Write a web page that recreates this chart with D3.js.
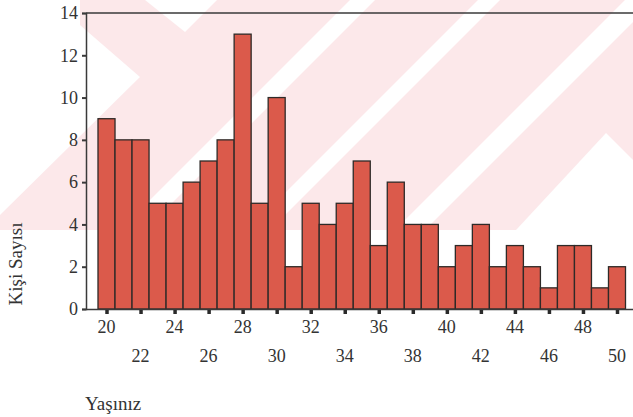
<!DOCTYPE html>
<html>
<head>
<meta charset="utf-8">
<script src="https://cdn.jsdelivr.net/npm/d3@7/dist/d3.min.js"></script>
<style>
  html, body { margin: 0; padding: 0; background: #fff; }
  svg { display: block; }
</style>
</head>
<body>
<svg id="chart" width="633" height="417"></svg>
<script>
// Data
const ages = [20,21,22,23,24,25,26,27,28,29,30,31,32,33,34,35,36,37,38,39,40,41,42,43,44,45,46,47,48,49,50];
const counts = [9,8,8,5,5,6,7,8,13,5,10,2,5,4,5,7,3,6,4,4,2,3,4,2,3,2,1,3,3,1,2];
const yTicks = [0,2,4,6,8,10,12,14];
const xTicksRow1 = [20,24,28,32,36,40,44,48];
const xTicksRow2 = [22,26,30,34,38,42,46,50];
const yLabel = "Kişi Sayısı";
const xLabel = "Yaşınız";

const svg = d3.select("#chart");
const W = 633, H = 417;
const serif = "Liberation Serif, Times New Roman, serif";
const textColor = "#333";

// faint watermark background
const wm = svg.append("g");
const pink = "#fce8ea";
wm.append("rect").attr("x",0).attr("y",0).attr("width",W).attr("height",230).attr("fill",pink);
const whites = [
  [[0,0],[80,0],[80,25],[140,77],[0,215],[0,0]],
  [[145,0],[185,32],[217,0]],
  [[120,230],[145,230],[375,0],[350,0]],
  [[248,230],[270,230],[500,0],[478,0]],
  [[395,230],[425,230],[655,0],[625,0]],
  [[516,230],[606,133],[633,160],[633,230]]
];
wm.selectAll("polygon").data(whites).join("polygon")
  .attr("points", d => d.map(p => p.join(",")).join(" "))
  .attr("fill", "#fff");

const x = d3.scaleLinear().domain([19.5, 50.5]).range([98, 625.5]);
const y = d3.scaleLinear().domain([0, 14]).range([309, 13]);
const bw = x(1) - x(0);

// bars
svg.append("g").selectAll("rect").data(ages).join("rect")
  .attr("x", (d) => x(d - 0.5))
  .attr("y", (d, i) => y(counts[i]))
  .attr("width", bw)
  .attr("height", (d, i) => y(0) - y(counts[i]))
  .attr("fill", "#db5a4b")
  .attr("stroke", "#2e2a28")
  .attr("stroke-width", 1.3);

// frame lines
const axisColor = "#3a3a3a";
svg.append("line").attr("x1",86).attr("x2",W).attr("y1",y(14)).attr("y2",y(14))
  .attr("stroke",axisColor).attr("stroke-width",1.3);
svg.append("line").attr("x1",86).attr("x2",W).attr("y1",y(0)+0.5).attr("y2",y(0)+0.5)
  .attr("stroke",axisColor).attr("stroke-width",1.5);

// y axis
const yAxis = svg.append("g").attr("transform","translate(86,0)")
  .call(d3.axisLeft(y).tickValues(yTicks).tickSize(4).tickPadding(4).tickFormat(d3.format("d")));
yAxis.attr("font-family", serif).attr("font-size", 18);
yAxis.select(".domain").attr("stroke",axisColor).attr("stroke-width",1.5);
yAxis.selectAll(".tick line").attr("stroke",axisColor).attr("stroke-width",2);
yAxis.selectAll(".tick text").attr("fill",textColor);

// x axis tick marks
const xAxis = svg.append("g").attr("transform",`translate(0,${y(0)+1})`)
  .call(d3.axisBottom(x).tickValues(xTicksRow1.concat(xTicksRow2)).tickSize(4).tickFormat(""));
xAxis.select(".domain").remove();
xAxis.selectAll(".tick line").attr("stroke","#2a2a2a").attr("stroke-width",3.5);

// x labels in two staggered rows
const labels = svg.append("g").attr("font-family", serif).attr("font-size", 18).attr("fill", textColor);
labels.append("g").selectAll("text").data(xTicksRow1).join("text")
  .attr("x", d => x(d)).attr("y", 333).attr("text-anchor","middle").text(d => d);
labels.append("g").selectAll("text").data(xTicksRow2).join("text")
  .attr("x", d => x(d)).attr("y", 362).attr("text-anchor","middle").text(d => d);

// axis titles
svg.append("text").attr("transform","translate(22,264) rotate(-90)")
  .attr("font-family", serif).attr("font-size", 19).attr("fill",textColor)
  .attr("text-anchor","middle").text(yLabel);
svg.append("text").attr("x",85).attr("y",410)
  .attr("font-family", serif).attr("font-size", 19).attr("fill",textColor).text(xLabel);
</script>
</body>
</html>
